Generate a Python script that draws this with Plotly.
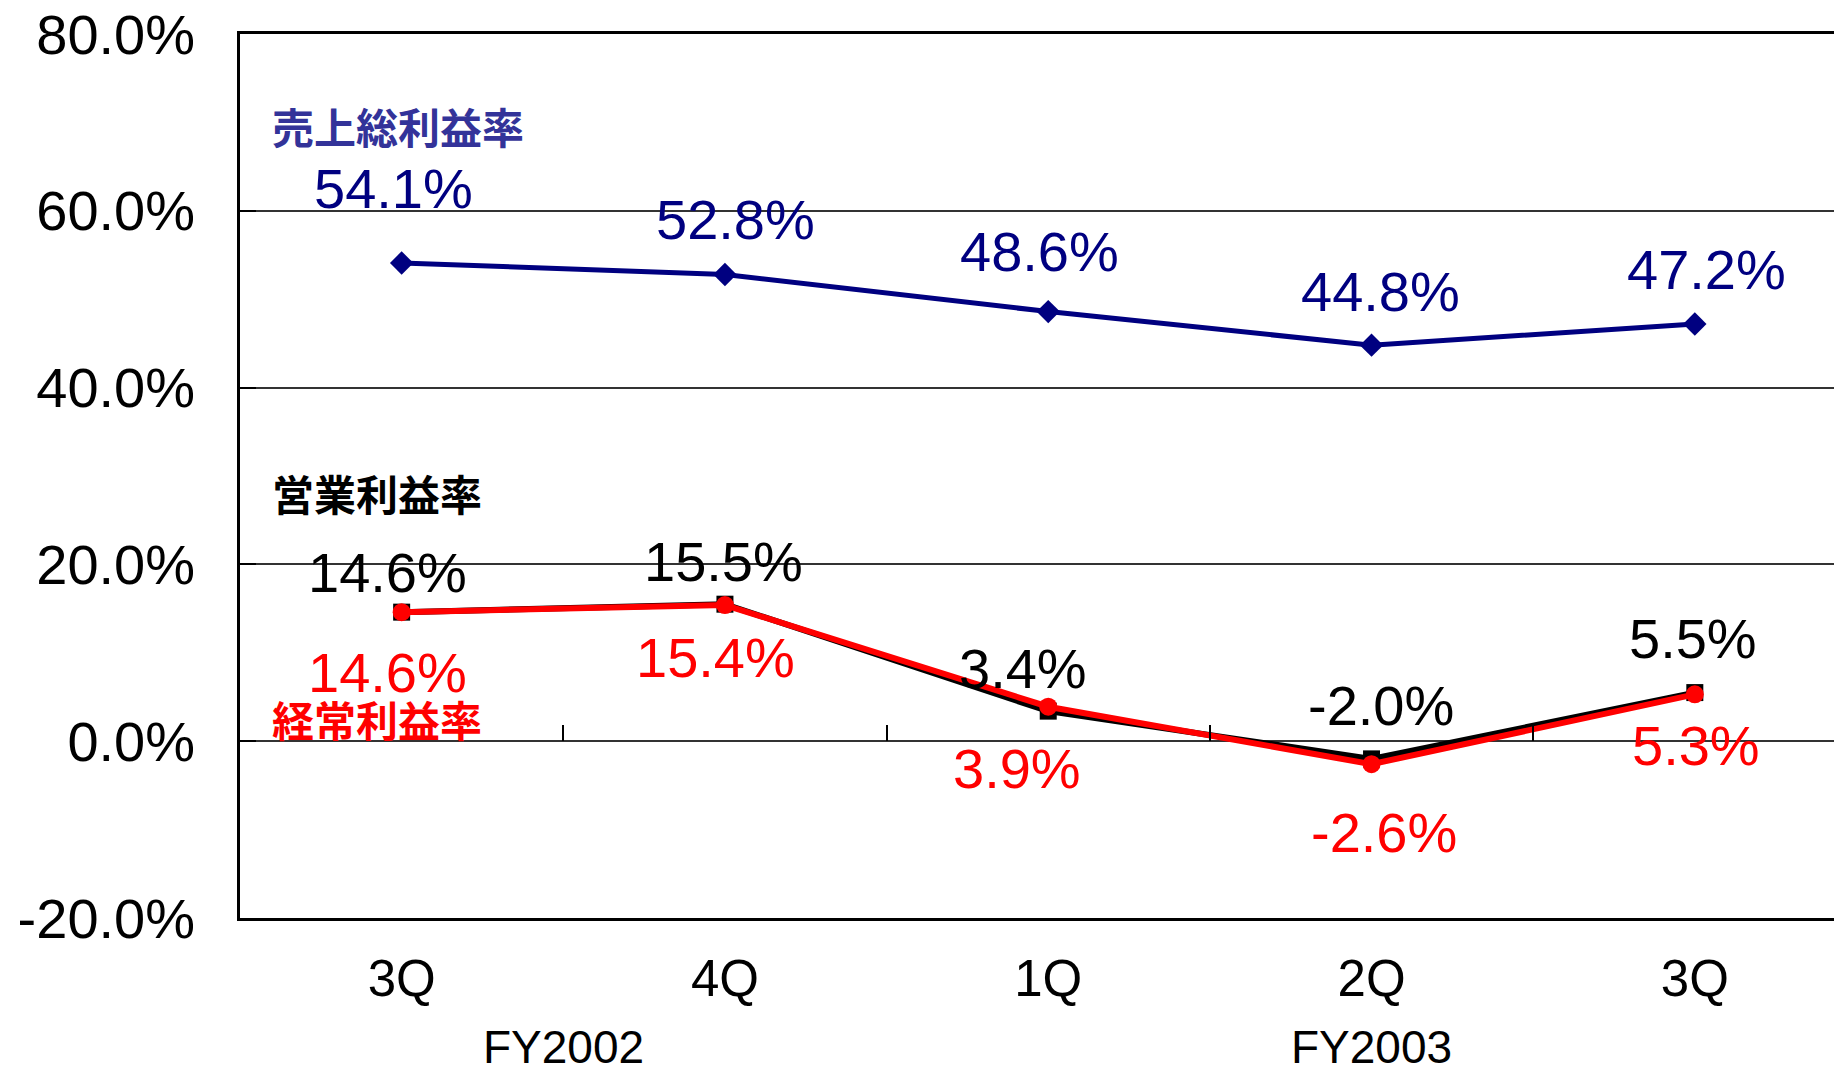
import plotly.graph_objects as go

quarters = ["3Q", "4Q", "1Q", "2Q", "3Q"]
fiscal_years = ["FY2002", "FY2003"]
gross_margin = [54.1, 52.8, 48.6, 44.8, 47.2]      # 売上総利益率
operating_margin = [14.6, 15.5, 3.4, -2.0, 5.5]    # 営業利益率
ordinary_margin = [14.6, 15.4, 3.9, -2.6, 5.3]     # 経常利益率
y_ticks = [-20, 0, 20, 40, 60, 80]
y_tick_labels = ["-20.0%", "0.0%", "20.0%", "40.0%", "60.0%", "80.0%"]

NAVY = "#000080"
RED = "#FF0000"
LATIN = "Liberation Sans, Arial, sans-serif"
CJK = "Noto Sans CJK JP, sans-serif"

xs = list(range(len(quarters)))

fig = go.Figure()
fig.add_trace(go.Scatter(x=xs, y=gross_margin, mode="lines+markers",
                         line=dict(color=NAVY, width=5),
                         marker=dict(symbol="diamond", size=18, color=NAVY),
                         showlegend=False, hoverinfo="skip"))
fig.add_trace(go.Scatter(x=xs, y=operating_margin, mode="lines+markers",
                         line=dict(color="black", width=6),
                         marker=dict(symbol="square", size=17, color="black"),
                         showlegend=False, hoverinfo="skip"))
fig.add_trace(go.Scatter(x=xs, y=ordinary_margin, mode="lines+markers",
                         line=dict(color=RED, width=6),
                         marker=dict(symbol="circle", size=18, color=RED),
                         showlegend=False, hoverinfo="skip"))
# carrier trace for the secondary axis that draws category separators at y=0
fig.add_trace(go.Scatter(x=xs, y=operating_margin, mode="none", xaxis="x2",
                         showlegend=False, hoverinfo="skip"))

# label offsets (pixels) – styling only
gross_off = [(-8, 74), (11, 55), (-9, 60), (9, 54), (12, 54)]
op_off = [(-14, 40), (-1, 43), (-25, 43), (9, 53), (-2, 54)]
ord_off = [(-14, -60), (-9, -52), (-31, -62), (12, -68), (1, -51)]

annotations = []
for series, offs, color in ((gross_margin, gross_off, NAVY),
                            (operating_margin, op_off, "black"),
                            (ordinary_margin, ord_off, RED)):
    for i, (v, (dx, dy)) in enumerate(zip(series, offs)):
        annotations.append(dict(x=i, y=v, xref="x", yref="y",
                                text=f"{v:.1f}%", showarrow=False,
                                xshift=dx, yshift=dy,
                                font=dict(family=LATIN, size=56, color=color)))

for text, yv, color in (("売上総利益率", 69.7, "#333399"),
                        ("営業利益率", 28.1, "black"),
                        ("経常利益率", 2.6, RED)):
    annotations.append(dict(x=0, y=yv, xref="paper", yref="y", xshift=30,
                            xanchor="left", yanchor="middle", text=f"<b>{text}</b>",
                            showarrow=False,
                            font=dict(family=CJK, size=42, color=color)))

# fiscal-year group labels
annotations.append(dict(x=0.5, y=-0.146, xref="x", yref="paper", text=fiscal_years[0],
                        showarrow=False, yanchor="middle",
                        font=dict(family=LATIN, size=46, color="black")))
annotations.append(dict(x=3, y=-0.146, xref="x", yref="paper", text=fiscal_years[1],
                        showarrow=False, yanchor="middle",
                        font=dict(family=LATIN, size=46, color="black")))

xr = [-0.5, 4.48]
fig.update_layout(
    width=1842, height=1069,
    margin=dict(l=232, r=0, t=26, b=159, autoexpand=False),
    paper_bgcolor="white", plot_bgcolor="white",
    annotations=annotations,
    xaxis=dict(range=xr, tickvals=xs, ticktext=quarters, showgrid=False,
               zeroline=False, showline=True, linecolor="black", linewidth=3,
               mirror=True, ticks="", ticklabelstandoff=14, automargin=False,
               ticklabeloverflow="allow",
               tickfont=dict(family=LATIN, size=51, color="black")),
    xaxis2=dict(range=xr, overlaying="x", anchor="free", position=0.2, side="bottom",
                tickvals=[0.5, 1.5, 2.5, 3.5], ticks="inside", ticklen=16,
                tickwidth=1.5, tickcolor="black", showticklabels=False,
                showgrid=False, zeroline=False, showline=False, automargin=False),
    yaxis=dict(range=[-20, 80], tickvals=y_ticks, ticktext=y_tick_labels,
               showgrid=True, gridcolor="#333333", gridwidth=1.5,
               zeroline=True, zerolinecolor="#333333", zerolinewidth=1.5,
               showline=True, linecolor="black", linewidth=2.5,
               ticks="inside", ticklen=16, tickwidth=2, tickcolor="black",
               ticklabelstandoff=31, automargin=False,
               ticklabeloverflow="allow",
               tickfont=dict(family=LATIN, size=56, color="black")),
)

fig.write_html("out.html")
